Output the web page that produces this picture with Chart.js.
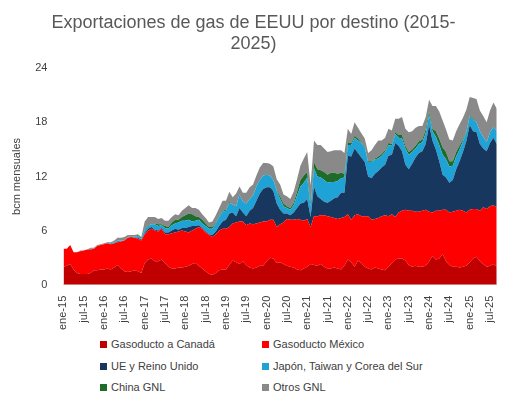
<!DOCTYPE html>
<html><head><meta charset="utf-8">
<script src="https://cdn.jsdelivr.net/npm/chart.js@4"></script>
<style>
body{margin:0;background:#fff;font-family:"Liberation Sans","Open Sans",sans-serif;}
#wrap{position:relative;width:513px;height:333px;}
#legend{position:absolute;top:338px;left:0;width:513px;font-size:11px;color:#404040;}
.it{position:absolute;display:flex;align-items:center;}
.sw{width:7px;height:7px;margin-right:4px;}
</style></head><body>
<div id="wrap"><canvas id="c"></canvas></div>
<div id="legend"></div>
<script>
const monthNames=["ene","feb","mar","abr","may","jun","jul","ago","sep","oct","nov","dic"];
const years=[15,16,17,18,19,20,21,22,23,24,25];
const lastMonths=9;
const categories=[];
years.forEach(y=>{for(let m=0;m<12;m++){if(y===25&&m>=lastMonths)break;categories.push(monthNames[m]+"-"+y);}});

const canada=[2.0,2.1,2.3,1.7,1.3,1.2,1.2,1.2,1.3,1.6,1.6,1.7,
1.7,1.8,1.7,1.9,2.2,1.8,1.5,1.4,1.5,1.6,1.5,1.3,
2.4,2.8,2.9,2.6,2.6,2.8,2.4,2.0,1.8,1.8,1.9,1.9,
2.0,2.1,2.3,2.4,2.1,1.8,1.5,1.2,1.1,1.3,1.6,1.7,
1.7,2.2,2.7,2.5,2.3,2.6,2.2,1.9,1.8,1.9,2.1,2.1,
2.6,3.0,2.9,2.4,2.5,2.3,2.1,2.0,1.9,1.7,1.6,1.8,
2.0,2.3,2.2,2.1,2.3,2.0,1.8,1.8,1.9,1.8,1.7,2.1,
2.8,2.5,2.0,2.7,2.4,2.0,1.8,1.7,1.9,1.8,1.7,1.6,
2.0,2.4,2.8,2.9,2.9,2.7,2.2,2.0,2.1,2.0,2.0,2.1,
2.6,3.2,2.8,2.9,3.4,2.6,2.2,2.0,2.0,1.9,2.0,2.1,
2.5,2.9,3.1,2.6,2.3,2.0,2.1,2.3,2.0];
const mexico=[2.0,1.9,2.1,1.9,2.3,2.5,2.6,2.7,2.6,2.4,2.7,2.7,
2.8,2.8,2.8,2.7,2.5,3.0,3.4,3.8,3.8,3.6,3.6,3.6,
3.2,3.2,3.3,3.4,3.3,3.4,3.2,3.6,3.9,4.0,4.0,4.1,
3.9,3.7,3.7,3.8,4.3,4.4,4.3,4.3,4.2,4.3,4.4,4.5,
4.5,4.2,4.1,4.4,4.7,4.4,4.4,4.9,4.9,4.9,4.8,4.9,
4.4,4.2,4.3,4.0,4.2,4.6,5.2,5.2,5.3,5.6,5.6,5.3,
5.3,4.1,5.4,5.5,5.4,5.7,5.8,5.7,5.5,5.5,5.7,5.4,
5.0,4.7,5.7,5.1,5.2,5.6,5.8,5.5,5.4,5.6,5.9,6.1,
5.6,5.4,4.7,5.1,5.3,5.6,6.0,6.2,6.0,6.1,6.2,6.2,
5.5,4.8,5.4,5.3,4.9,5.7,5.8,6.1,6.2,6.4,6.2,5.9,
5.8,5.5,5.3,5.6,6.3,6.4,6.6,6.5,6.6];
const ue=[0,0,0,0,0,0,0,0,0,0,0,0,
0,0,0,0,0.1,0,0,0,0,0,0.1,0.1,
0.1,0.2,0.2,0.1,0.1,0.1,0.2,0.2,0.3,0.4,0.2,0.3,
0.4,0.6,0.5,0.3,0.2,0.1,0.1,0.1,0.2,0.3,0.5,0.8,
1.0,1.5,1.2,0.7,1.5,1.0,1.0,1.4,1.8,2.5,3.2,3.6,
3.8,3.6,3.2,2.6,1.6,1.0,0.6,0.5,0.8,1.2,1.8,2.0,
2.2,1.1,3.3,2.2,1.8,1.5,1.5,1.8,2.2,2.4,2.8,2.7,
6.5,7.0,7.4,6.8,6.5,6.0,4.4,4.6,5.0,5.2,5.4,5.6,
6.7,6.6,8.2,7.4,6.6,5.0,4.6,5.2,6.0,6.5,6.6,7.3,
9.6,8.0,6.8,5.5,3.9,3.6,3.3,3.5,4.6,5.4,6.5,7.9,
9.4,8.6,8.5,7.4,6.5,6.4,7.0,7.5,7.0];
const japon=[0,0,0,0,0,0,0,0,0.1,0,0,0,
0,0,0.1,0.1,0.1,0.1,0,0.1,0.1,0.1,0.2,0.1,
0.4,0.3,0.3,0.6,0.5,0.3,0.5,0.4,0.6,0.6,0.8,0.8,
0.8,0.8,0.5,0.6,0.6,0.5,0.6,0.6,0.7,0.9,1.0,1.1,
1.0,1.2,0.9,1.1,1.5,1.2,1.4,1.3,1.4,1.6,1.5,1.5,
1.4,1.3,1.2,1.4,1.2,0.8,0.6,0.6,0.8,1.4,1.9,2.2,
2.4,1.2,2.0,2.2,2.4,2.4,2.2,2.1,1.8,1.8,1.6,1.7,
1.2,1.3,1.2,1.4,1.6,1.6,1.6,1.8,1.6,1.4,1.3,1.4,
1.2,1.0,1.0,0.9,1.4,1.8,1.6,1.3,1.0,1.0,1.0,1.2,
1.1,1.0,1.4,1.8,2.2,2.0,1.8,1.6,1.4,1.3,1.2,1.0,
1.0,1.3,1.1,1.4,1.3,1.0,1.2,1.2,1.4];
const china=[0,0,0,0,0,0,0,0,0,0,0,0,
0,0,0,0,0,0,0,0,0,0,0.1,0.1,
0.1,0.1,0,0.1,0.2,0.1,0.2,0.2,0.3,0.4,0.3,0.4,
0.6,0.7,0.8,0.5,0.3,0.4,0.3,0.2,0.2,0.1,0.1,0.1,
0.1,0.1,0,0,0,0,0,0,0,0,0,0,
0,0,0,0.1,0.3,0.3,0.2,0.2,0.3,0.4,0.7,0.8,
0.6,0.3,0.7,0.8,0.8,0.9,0.9,1.0,1.0,0.8,0.6,0.4,
0.3,0.2,0.2,0.2,0.1,0.1,0.1,0.1,0.1,0.2,0.2,0.2,
0.2,0.2,0.2,0.3,0.4,0.3,0.3,0.3,0.3,0.3,0.3,0.4,
0.4,0.3,0.6,0.7,0.8,0.8,0.6,0.5,0.5,0.4,0.2,0.1,
0.1,0.1,0,0,0,0,0,0,0];
const otros=[0,0,0,0,0,0.1,0,0,0.1,0.1,0.1,0.1,
0.1,0.1,0.1,0.2,0.3,0.3,0.4,0.2,0.1,0.2,0.1,0.1,
0.8,0.9,0.8,0.7,0.6,0.7,0.6,0.7,0.6,0.6,0.5,0.7,
0.8,0.9,0.7,0.9,0.8,0.6,0.6,0.5,0.6,0.8,0.9,1.1,
1.0,1.1,0.8,1.4,0.9,1.0,1.2,1.3,1.2,1.2,1.4,1.4,
1.3,1.3,1.5,1.2,1.3,1.0,1.1,1.0,1.2,1.4,1.6,1.9,
2.2,2.0,2.4,2.7,2.8,2.6,2.5,2.4,2.5,2.6,2.5,2.3,
1.5,1.0,1.5,1.2,1.0,0.9,0.9,1.2,1.5,1.8,1.5,1.4,
1.6,1.5,1.5,1.8,2.0,1.9,2.2,2.0,2.0,1.7,1.5,1.4,
1.3,2.5,2.8,3.0,3.0,2.5,2.4,2.3,2.3,2.4,2.4,2.4,
2.0,2.3,2.6,2.3,2.3,2.2,2.4,2.7,2.5];
const yTicks=[0,6,12,18,24];

const series=[
 {label:"Gasoducto a Canadá",data:canada,color:"#C00000"},
 {label:"Gasoducto México",data:mexico,color:"#FF0000"},
 {label:"UE y Reino Unido",data:ue,color:"#17375E"},
 {label:"Japón, Taiwan y Corea del Sur",data:japon,color:"#1FA2D6"},
 {label:"China GNL",data:china,color:"#1E6B2A"},
 {label:"Otros GNL",data:otros,color:"#898989"}
];
new Chart(document.getElementById("c"),{
 type:"line",
 data:{labels:categories,datasets:series.map((s,i)=>({label:s.label,data:s.data,backgroundColor:s.color,borderColor:s.color,borderWidth:0,pointRadius:0,fill:i===0?"origin":"-1",tension:0}))},
 options:{responsive:true,maintainAspectRatio:false,animation:false,
  layout:{padding:{left:6,right:12,top:0,bottom:0}},
  plugins:{legend:{display:false},tooltip:{enabled:false},
   title:{display:true,text:["Exportaciones de gas de EEUU por destino (2015-","2025)"],color:"#595959",font:{size:18,family:"Liberation Sans",weight:"normal"},padding:{top:12,bottom:13},align:"center"}},
  scales:{
   x:{grid:{display:false},border:{color:"#D9D9D9"},ticks:{autoSkip:false,maxRotation:90,minRotation:90,color:"#404040",font:{size:11},
     callback:function(v,i){const l=categories[i];return (l.startsWith("ene")||l.startsWith("jul"))?l:"";}}},
   y:{stacked:true,min:0,max:24,grid:{display:false},border:{display:false},
     afterBuildTicks:a=>{a.ticks=yTicks.map(v=>({value:v}));},
     ticks:{color:"#404040",font:{size:11},padding:8},
     title:{display:true,text:"bcm mensuales",color:"#404040",font:{size:11}}}
  }}
});
const pos=[[100,0],[262,0],[100,22],[262,22],[100,43],[262,43]];
const lg=document.getElementById("legend");
series.forEach((s,i)=>{const d=document.createElement("div");d.className="it";d.style.left=pos[i][0]+"px";d.style.top=pos[i][1]+"px";
 d.innerHTML='<span class="sw" style="background:'+s.color+'"></span>'+s.label;lg.appendChild(d);});
</script></body></html>
